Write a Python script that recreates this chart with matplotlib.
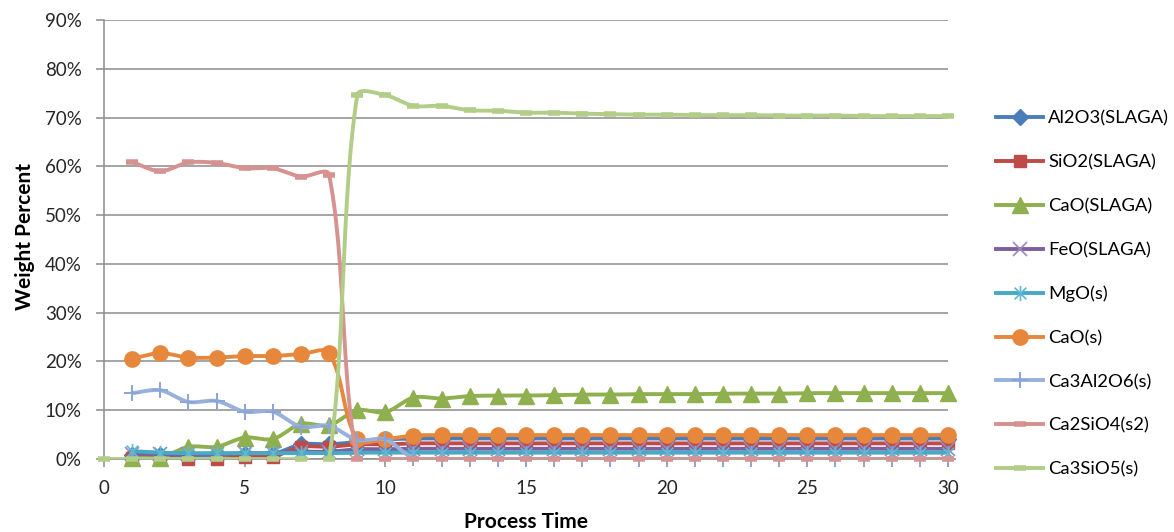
import numpy as np
import matplotlib
matplotlib.use("Agg")
import matplotlib.pyplot as plt
from matplotlib.lines import Line2D
from matplotlib.path import Path
from matplotlib.ticker import PercentFormatter

plt.rcParams['font.family'] = ['Lato', 'DejaVu Sans']

# 时间轴
t = list(range(1, 31))
t0 = list(range(0, 31))

# 各相的质量分数 (%)
al2o3 = [0.8, 0.8, 0.8, 0.8, 1.0, 1.0, 3.0, 3.0, 3.5, 4.0] + [4.2] * 20
sio2 = [0.2, 0.2, 0.0, 0.0, 0.5, 0.5, 2.5, 2.5, 3.0, 3.0] + [3.2] * 20
cao_slag = [0.3, 0.3, 2.5, 2.5, 4.4, 4.1, 7.2, 6.9, 10.0, 9.6,
            12.6, 12.4, 12.9, 13.0, 13.0, 13.1, 13.2, 13.2, 13.3, 13.3,
            13.3, 13.4, 13.4, 13.4, 13.5, 13.5, 13.5, 13.5, 13.5, 13.5]
feo = [1.0, 1.0, 1.0, 1.0, 1.2, 1.2, 1.5, 1.5, 2.0, 2.0] + [2.1] * 20
mgo = [1.6, 1.3, 1.2, 1.2, 1.2, 1.2, 1.2, 1.2, 1.3, 1.3] + [1.3] * 20
cao_s = [20.6, 21.7, 20.8, 20.8, 21.1, 21.1, 21.5, 21.7, 4.0, 4.1,
         4.8] + [4.9] * 19
ca3al2o6 = [13.5, 14.1, 11.7, 11.9, 9.7, 9.7, 6.6, 6.8, 3.9, 4.0,
            0.2] + [0.0] * 19
ca2sio4 = [60.9, 59.0, 60.8, 60.7, 59.6, 59.6, 57.9, 58.3] + [0.0] * 22
ca3sio5 = [0.0] * 9 + [74.6, 74.6, 72.4, 72.4, 71.5, 71.4, 71.0, 71.0,
                       70.8, 70.7, 70.6, 70.6, 70.5, 70.5, 70.5, 70.4,
                       70.4, 70.4, 70.3, 70.3, 70.3, 70.3]

names = ['Al2O3(SLAGA)', 'SiO2(SLAGA)', 'CaO(SLAGA)', 'FeO(SLAGA)', 'MgO(s)',
         'CaO(s)', 'Ca3Al2O6(s)', 'Ca2SiO4(s2)', 'Ca3SiO5(s)']
xs = [t, t, t, t, t, t, t, t, t0]
ys = [al2o3, sio2, cao_slag, feo, mgo, cao_s, ca3al2o6, ca2sio4, ca3sio5]

# 星形标记 (x 加竖线)
star = Path([(-1, -1), (1, 1), (-1, 1), (1, -1), (0, -1.3), (0, 1.3)],
            [Path.MOVETO, Path.LINETO] * 3)

# 线条颜色及标记样式
styles = [
    dict(color='#4A7EBB', marker='D', ms=8, mfc='#4A7EBB', mec='#4A7EBB', mew=1),
    dict(color='#BE4B48', marker='s', ms=9, mfc='#BE4B48', mec='#BE4B48', mew=1),
    dict(color='#8EB04E', marker='^', ms=12, mfc='#8EB04E', mec='#8EB04E', mew=1),
    dict(color='#7D60A0', marker='x', ms=10, mfc='none', mec='#9C87BD', mew=1.2),
    dict(color='#46AAC5', marker=star, ms=11, mfc='none', mec='#5FB8D0', mew=1.2),
    dict(color='#E6873C', marker='o', ms=11, mfc='#E6873C', mec='#E6873C', mew=1),
    dict(color='#98B0DC', marker='+', ms=12, mfc='none', mec='#8CA5D6', mew=1.4),
    dict(color='#D69290', marker='_', ms=8, mfc='#D69290', mec='#D69290', mew=4),
    dict(color='#B2CD87', marker='_', ms=8, mfc='#B2CD87', mec='#B2CD87', mew=4),
]
lw = 2.8


def smooth_curve(ax, x, y, k=0.3, n=30):
    """在屏幕坐标中做平滑曲线 (贝塞尔)"""
    p = ax.transData.transform(np.column_stack([x, y]))
    m = len(p)
    d = np.zeros_like(p)
    for i in range(m):
        a = p[max(i - 1, 0)]
        b = p[min(i + 1, m - 1)]
        v = b - a
        nv = np.hypot(*v)
        d[i] = v / nv if nv > 0 else 0
    out = [p[0]]
    s = np.linspace(0, 1, n)[1:, None]
    for i in range(m - 1):
        seg = np.hypot(*(p[i + 1] - p[i]))
        c1 = p[i] + d[i] * seg * k
        c2 = p[i + 1] - d[i + 1] * seg * k
        pts = ((1 - s) ** 3) * p[i] + 3 * ((1 - s) ** 2) * s * c1 \
            + 3 * (1 - s) * s ** 2 * c2 + s ** 3 * p[i + 1]
        out.extend(pts)
    out = np.array(out)
    q = ax.transData.inverted().transform(out)
    return q[:, 0], q[:, 1]


fig = plt.figure(figsize=(11.74, 5.32), dpi=100)
ax = fig.add_axes([104 / 1174, 1 - 459 / 532, 844 / 1174, 439 / 532])
ax.set_xlim(0, 30)
ax.set_ylim(0, 90)

# 绘制各条曲线
handles = []
for i, (x, y, st) in enumerate(zip(xs, ys, styles)):
    sx, sy = smooth_curve(ax, x, y)
    z = 3 + i * 0.1
    ax.plot(sx, sy, color=st['color'], lw=lw, solid_capstyle='butt', zorder=z)
    ax.plot(x, y, ls='none', marker=st['marker'], ms=st['ms'], mfc=st['mfc'],
            mec=st['mec'], mew=st['mew'], zorder=z + 0.05, clip_on=False)
    handles.append(Line2D([], [], color=st['color'], lw=lw, marker=st['marker'],
                          ms=st['ms'], mfc=st['mfc'], mec=st['mec'], mew=st['mew']))

# 坐标轴设置
ax.yaxis.set_major_formatter(PercentFormatter(decimals=0))
ax.set_yticks(range(0, 91, 10))
ax.set_xticks(range(0, 31, 5))
ax.grid(axis='y', color='#8C8C8C', lw=1.1, zorder=0)
ax.set_axisbelow(True)
for s in ['top', 'right']:
    ax.spines[s].set_visible(False)
for s in ['left', 'bottom']:
    ax.spines[s].set_color('#8C8C8C')
    ax.spines[s].set_linewidth(1.1)
ax.tick_params(axis='y', length=6, width=1.1, color='#8C8C8C', pad=10,
               labelsize=13.5, labelcolor='#262626')
ax.tick_params(axis='x', length=6, width=1.1, color='#8C8C8C', pad=9,
               labelsize=13.5, labelcolor='#262626')

# 坐标轴标题
fig.text(25 / 1174, 1 - 237 / 532, 'Weight Percent', rotation=90,
         ha='center', va='center', fontsize=15, fontweight='bold')
fig.text(526 / 1174, 1 - 522 / 532, 'Process Time', ha='center', va='center',
         fontsize=15, fontweight='bold')

# 图例
fig.legend(handles, names, loc='center left',
           bbox_to_anchor=(987 / 1174, 1 - 294 / 532), frameon=False,
           fontsize=13.3, handlelength=2.55, handletextpad=0.25,
           labelspacing=1.5, borderpad=0, numpoints=1)

fig.savefig('out.png', dpi=100)
